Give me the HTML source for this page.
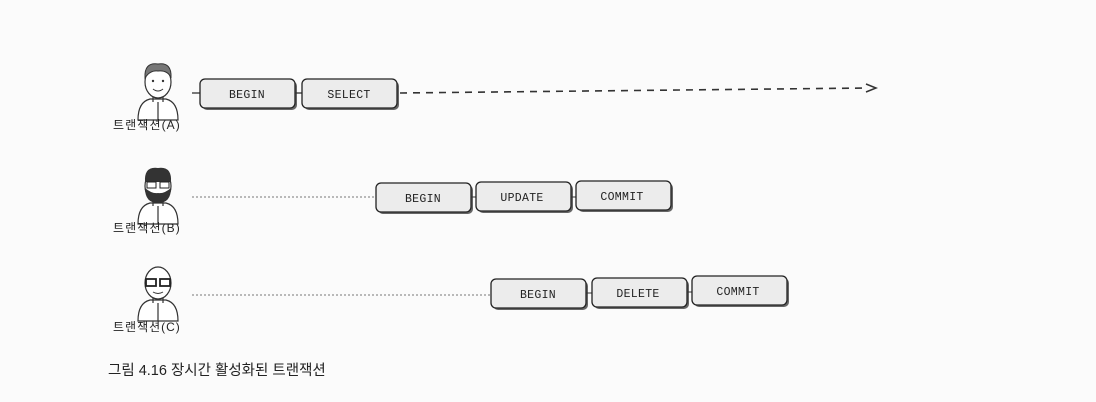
<!DOCTYPE html>
<html><head><meta charset="utf-8"><style>
html,body{margin:0;padding:0;background:#fbfbfb;}
svg{display:block}
.b{font-family:"Liberation Mono","DejaVu Sans Mono",monospace;font-size:11.5px;fill:#222;letter-spacing:0.3px}
.k{font-family:"Liberation Sans","Noto Sans CJK KR",sans-serif;fill:#222}
.l{letter-spacing:1.2px}
</style></head><body>
<svg width="1096" height="402" viewBox="0 0 1096 402" xmlns="http://www.w3.org/2000/svg">
<defs>
<g id="box">
<rect x="2" y="2" width="95" height="29" rx="5" fill="#666"/>
<rect x="0" y="0" width="95" height="29" rx="5" fill="#ececec" stroke="#222" stroke-width="1.3"/>
</g>
<g id="person" fill="none" stroke="#333" stroke-width="1.2">
<ellipse cx="0" cy="0" rx="13" ry="16" fill="#fff"/>
<path d="M-20 38 Q-20 20 -8 17 L8 17 Q20 20 20 38 Z" fill="#fff"/>
<path d="M-5 15 L-5 20 M5 15 L5 20"/>
<path d="M0 20 L0 38"/>
</g>
</defs>

<g transform="translate(158,82)">
<use href="#person"/>
<path d="M-13 -4 Q-14 -20 0 -18 Q14 -20 13 -4 Q10 -12 0 -11 Q-8 -12 -13 -4Z" fill="#777" stroke="#333"/>
<circle cx="-5" cy="-1" r="1.2" fill="#333"/><circle cx="5" cy="-1" r="1.2" fill="#333"/>
<path d="M-5 7 Q0 11 5 7" stroke="#333" fill="none"/>
</g>
<text class="k l" x="113" y="129" font-size="12" textLength="68">트랜잭션(A)</text>
<line x1="192" y1="93" x2="200" y2="93" stroke="#333" stroke-width="1.3"/>
<use href="#box" x="200" y="79"/>
<text class="b" x="247" y="98" text-anchor="middle">BEGIN</text>
<line x1="295" y1="93" x2="302" y2="93" stroke="#333" stroke-width="1.3"/>
<use href="#box" x="302" y="79"/>
<text class="b" x="349" y="98" text-anchor="middle">SELECT</text>
<line x1="400" y1="93" x2="868" y2="88" stroke="#333" stroke-width="1.6" stroke-dasharray="7,6"/>
<path d="M866 84 L876 88 L866 92" fill="none" stroke="#333" stroke-width="1.5"/>

<g transform="translate(158,186)">
<use href="#person"/>
<path d="M-13 -4 Q-14 -20 0 -18 Q14 -20 13 -4 Z" fill="#333"/>
<path d="M-13 2 Q-13 17 0 17 Q13 17 13 2 Q6 8 0 7 Q-6 8 -13 2Z" fill="#333"/>
<rect x="-11" y="-4" width="9" height="6" fill="#fff" stroke="#222"/><rect x="2" y="-4" width="9" height="6" fill="#fff" stroke="#222"/>
</g>
<text class="k l" x="113" y="232" font-size="12" textLength="68">트랜잭션(B)</text>
<line x1="192" y1="197" x2="376" y2="197" stroke="#777" stroke-width="1" stroke-dasharray="2,2"/>
<use href="#box" x="376" y="183"/>
<text class="b" x="423" y="202" text-anchor="middle">BEGIN</text>
<line x1="471" y1="197" x2="476" y2="197" stroke="#333"/>
<use href="#box" x="476" y="182"/>
<text class="b" x="522" y="201" text-anchor="middle">UPDATE</text>
<line x1="571" y1="197" x2="576" y2="197" stroke="#333"/>
<use href="#box" x="576" y="181"/>
<text class="b" x="622" y="200" text-anchor="middle">COMMIT</text>

<g transform="translate(158,283)">
<use href="#person"/>
<rect x="-12" y="-4" width="10" height="7" fill="#fff" stroke="#222" stroke-width="1.8"/><rect x="2" y="-4" width="10" height="7" fill="#fff" stroke="#222" stroke-width="1.8"/>
<path d="M-5 9 Q0 12 5 9" stroke="#333" fill="none"/>
</g>
<text class="k l" x="113" y="331" font-size="12" textLength="68">트랜잭션(C)</text>
<line x1="192" y1="295" x2="491" y2="295" stroke="#777" stroke-width="1" stroke-dasharray="2,2"/>
<use href="#box" x="491" y="279"/>
<text class="b" x="538" y="298" text-anchor="middle">BEGIN</text>
<line x1="586" y1="293" x2="592" y2="293" stroke="#333"/>
<use href="#box" x="592" y="278"/>
<text class="b" x="638" y="297" text-anchor="middle">DELETE</text>
<line x1="687" y1="292" x2="692" y2="292" stroke="#333"/>
<use href="#box" x="692" y="276"/>
<text class="b" x="738" y="295" text-anchor="middle">COMMIT</text>

<text class="k" x="108" y="375" font-size="14.5">그림 4.16 장시간 활성화된 트랜잭션</text>
</svg>
</body></html>
